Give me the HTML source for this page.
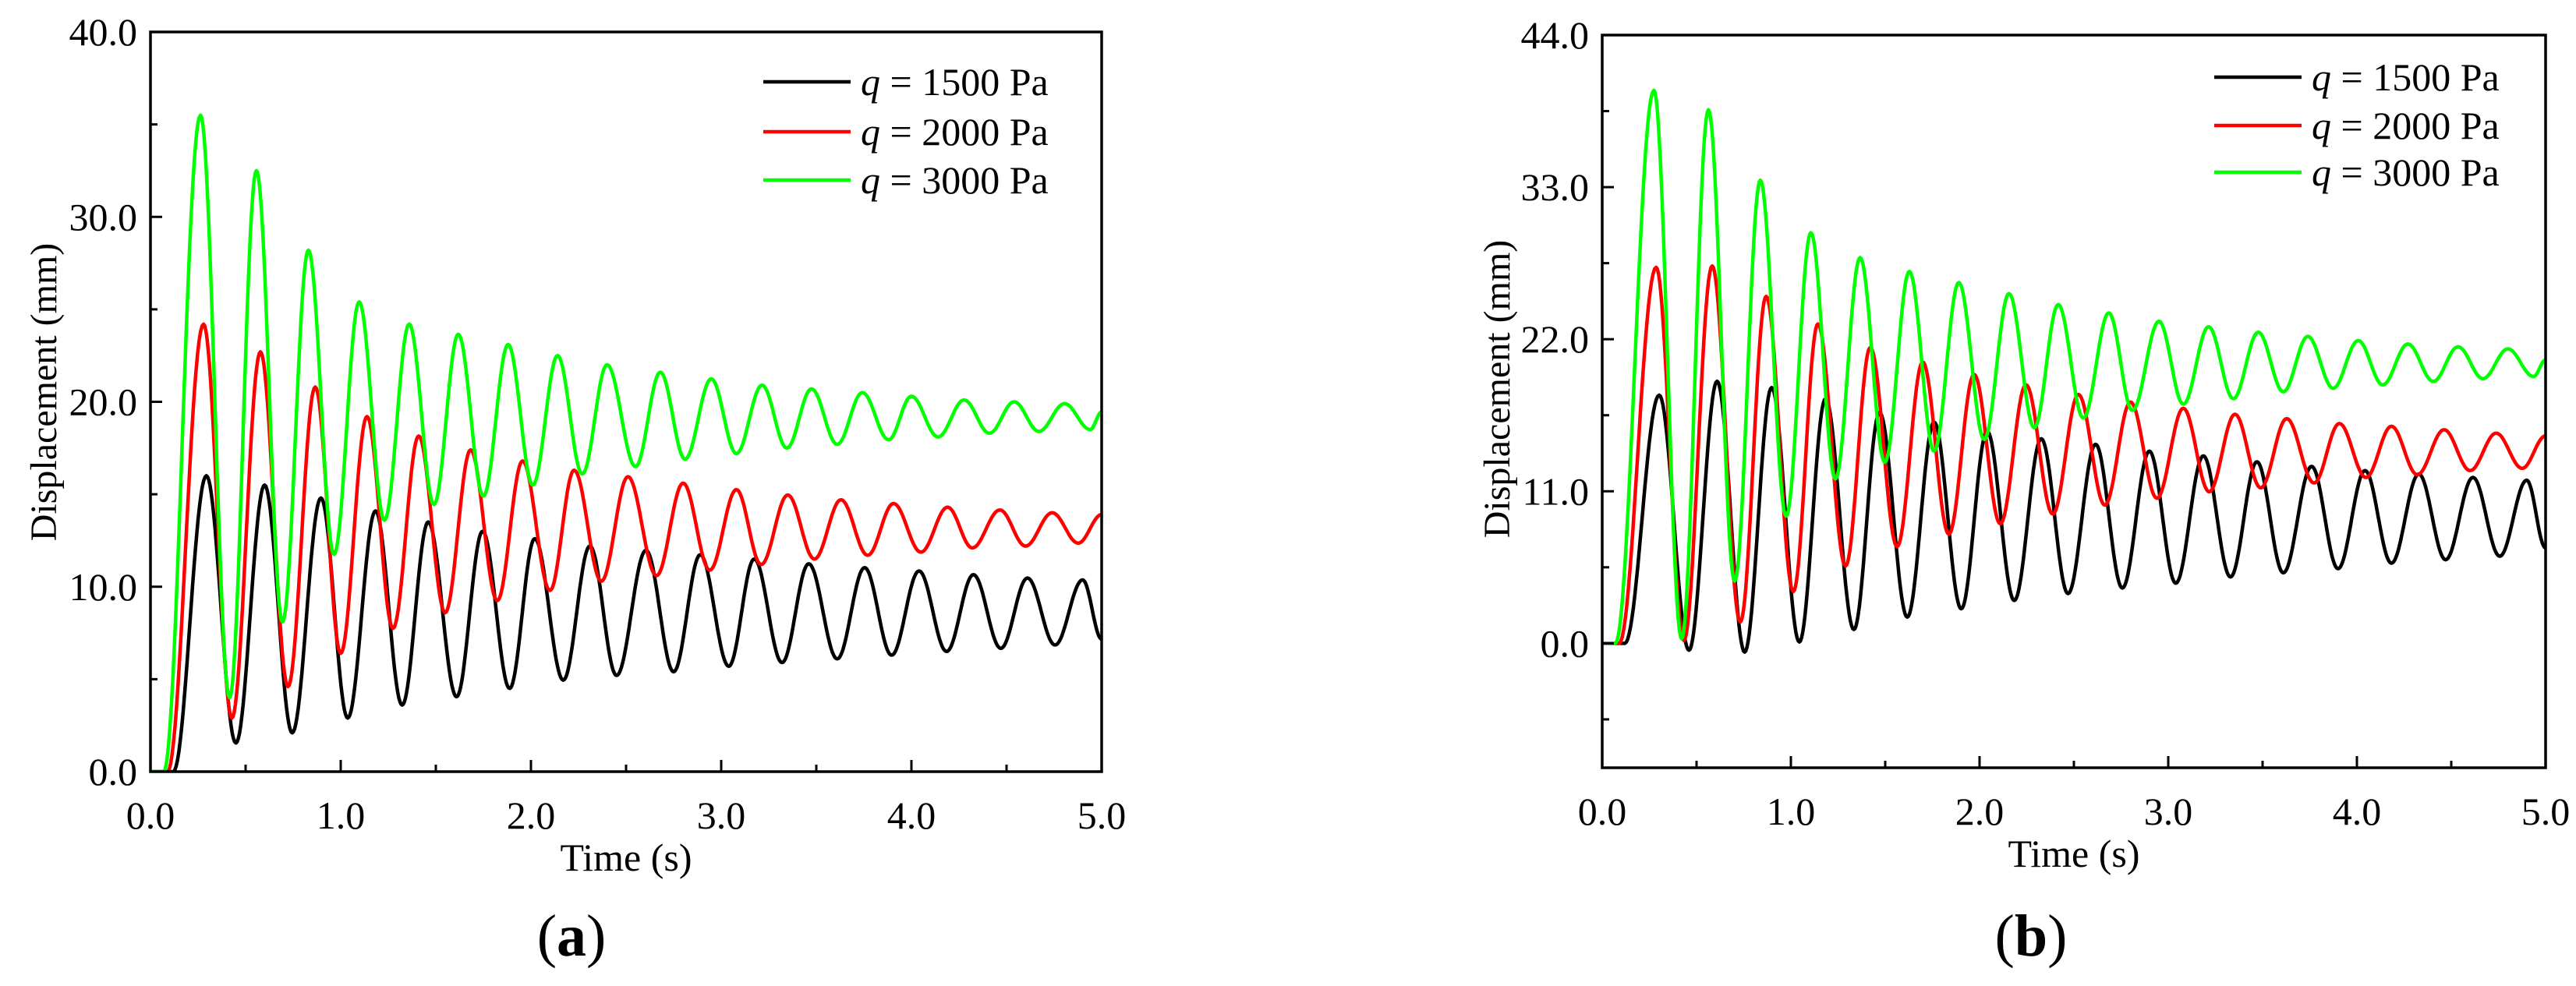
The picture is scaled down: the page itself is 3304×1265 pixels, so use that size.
<!DOCTYPE html>
<html><head><meta charset="utf-8"><style>
html,body{margin:0;padding:0;background:#fff;}
svg{display:block;}
text{font-family:"Liberation Serif",serif;fill:#000;}
</style></head><body>
<svg id="fig" width="3304" height="1265" viewBox="0 0 3304 1265" xmlns="http://www.w3.org/2000/svg"></svg>
<script>
// ---------- Panel (a) data: extremum times (s) and displacements (mm) ----------
const aBlackT = [0,0.12,0.294,0.449,0.60,0.745,0.896,1.037,1.183,1.323,1.46,1.609,1.746,1.888,2.02,2.17,2.31,2.45,2.605,2.75,2.89,3.04,3.174,3.32,3.46,3.61,3.754,3.896,4.04,4.185,4.326,4.47,4.61,4.755,4.90,5.0];
const aBlackV = [0,0,16.0,1.55,15.5,2.1,14.8,2.9,14.1,3.6,13.5,4.05,13.0,4.5,12.6,4.95,12.2,5.2,11.97,5.4,11.73,5.7,11.5,5.9,11.24,6.1,11.03,6.3,10.85,6.5,10.65,6.67,10.47,6.85,10.37,7.17];
const aRedT = [0,0.09,0.279,0.428,0.578,0.723,0.866,1.0,1.138,1.275,1.41,1.549,1.683,1.823,1.956,2.10,2.227,2.37,2.51,2.66,2.80,2.94,3.08,3.21,3.35,3.49,3.63,3.77,3.906,4.05,4.19,4.32,4.465,4.6,4.74,4.877,5.0];
const aRedV = [0,0,24.2,2.9,22.7,4.6,20.8,6.4,19.2,7.75,18.15,8.6,17.4,9.25,16.8,9.8,16.3,10.3,15.95,10.6,15.6,10.9,15.25,11.2,14.96,11.5,14.7,11.7,14.5,11.87,14.3,12.1,14.15,12.2,14.0,12.36,13.9];
const aGreenT = [0,0.07,0.263,0.416,0.557,0.694,0.83,0.965,1.097,1.23,1.36,1.49,1.618,1.75,1.88,2.01,2.14,2.27,2.40,2.55,2.68,2.81,2.948,3.08,3.215,3.345,3.475,3.61,3.742,3.88,4.0,4.14,4.277,4.41,4.54,4.67,4.805,4.94,5.0];
const aGreenV = [0,0,35.5,4.0,32.5,8.1,28.2,11.75,25.4,13.6,24.2,14.45,23.65,14.9,23.1,15.5,22.5,16.1,22.0,16.5,21.6,16.9,21.24,17.2,20.9,17.5,20.7,17.7,20.5,17.95,20.3,18.1,20.1,18.3,20.0,18.4,19.9,18.5,19.45];
// ---------- Panel (b) data ----------
const bBlackT = [0,0.12,0.302,0.46,0.609,0.755,0.898,1.045,1.184,1.334,1.47,1.617,1.759,1.903,2.04,2.184,2.327,2.469,2.615,2.757,2.90,3.04,3.186,3.33,3.47,3.61,3.76,3.90,4.043,4.183,4.328,4.47,4.615,4.757,4.90,5.0];
const bBlackV = [0,0,17.95,-0.5,18.96,-0.63,18.5,0.1,17.7,1.0,16.7,1.9,16.0,2.5,15.35,3.1,14.8,3.6,14.4,4.0,13.9,4.35,13.56,4.8,13.13,5.1,12.8,5.4,12.5,5.8,12.25,6.05,12.0,6.3,11.8,6.9];
const bRedT = [0,0.09,0.286,0.433,0.583,0.732,0.869,1.013,1.143,1.29,1.421,1.563,1.699,1.837,1.971,2.11,2.246,2.388,2.524,2.664,2.80,2.94,3.08,3.217,3.354,3.49,3.628,3.773,3.907,4.048,4.183,4.32,4.462,4.60,4.738,4.876,5.0];
const bRedV = [0,0,27.2,0.2,27.3,1.55,25.1,3.75,23.1,5.6,21.4,7.0,20.35,7.9,19.45,8.65,18.7,9.35,18.0,10.0,17.45,10.5,17.0,10.97,16.57,11.25,16.25,11.6,15.9,12.0,15.7,12.2,15.45,12.5,15.2,12.66,15.0];
const bGreenT = [0,0.07,0.274,0.421,0.563,0.702,0.838,0.975,1.106,1.236,1.367,1.498,1.628,1.759,1.89,2.025,2.156,2.29,2.417,2.55,2.685,2.81,2.951,3.08,3.214,3.345,3.477,3.61,3.74,3.874,4.007,4.137,4.27,4.405,4.536,4.668,4.80,4.936,5.0];
const bGreenV = [0,0,40.0,0.33,38.6,4.5,33.5,9.2,29.7,11.9,27.9,13.1,26.9,13.9,26.1,14.75,25.3,15.6,24.5,16.3,23.9,16.85,23.3,17.3,22.9,17.7,22.5,18.2,22.2,18.45,21.9,18.7,21.65,18.95,21.45,19.15,21.3,19.3,20.5];
// ---------- ticks / labels ----------
const xTicksMajor = [0,1,2,3,4,5];
const xTickLabels = ["0.0","1.0","2.0","3.0","4.0","5.0"];
const xTicksMinor = [0.5,1.5,2.5,3.5,4.5];
const aYTicksMajor = [0,10,20,30,40];
const aYTickLabels = ["0.0","10.0","20.0","30.0","40.0"];
const aYTicksMinor = [5,15,25,35];
const bYTicksMajor = [0,11,22,33,44];
const bYTickLabels = ["0.0","11.0","22.0","33.0","44.0"];
const bYTicksMinor = [-5.5,5.5,16.5,27.5,38.5];
const legendLabels = ["1500","2000","3000"];
const seriesColors = ["#000000","#ff0000","#00ff00"];

const NS = "http://www.w3.org/2000/svg";
const svg = document.getElementById('fig');
function mk(tag, attrs, parent){
  const e = document.createElementNS(NS, tag);
  for (const k in attrs) e.setAttribute(k, attrs[k]);
  (parent||svg).appendChild(e);
  return e;
}

function panel(cfg){
  const g = mk('g', {});
  
  
  const X = t => cfg.x0 + (t - 0) / 5 * (cfg.x1 - cfg.x0);
  const Y = v => cfg.y1 - (v - cfg.ymin) / (cfg.ymax - cfg.ymin) * (cfg.y1 - cfg.y0);

  // series
  const clipId = cfg.name + '-clip';
  const cp = mk('clipPath', {id: clipId}, g);
  mk('rect', {x: cfg.x0, y: cfg.y0, width: cfg.x1 - cfg.x0, height: cfg.y1 - cfg.y0}, cp);
  cfg.series.forEach((s, si) => {
    let d = '';
    for (let i = 0; i < s.t.length; i++) {
      if (i === 0) { d += 'M' + X(s.t[0]).toFixed(1) + ' ' + Y(s.v[0]).toFixed(1); continue; }
      const ta = s.t[i-1], tb = s.t[i], va = s.v[i-1], vb = s.v[i];
      const n = 24;
      for (let k = 1; k <= n; k++) {
        const u = k / n;
        const tt = ta + (tb - ta) * u;
        const vv = va + (vb - va) * (1 - Math.cos(Math.PI * u)) / 2;
        d += 'L' + X(tt).toFixed(1) + ' ' + Y(vv).toFixed(1);
      }
    }
    const p = mk('path', {d: d, fill: 'none', stroke: seriesColors[si], 'stroke-width': 4.5, 'stroke-linejoin': 'round', 'clip-path': 'url(#' + clipId + ')'}, g);
    
    
  });

  // frame
  const fr = mk('rect', {x: cfg.x0, y: cfg.y0, width: cfg.x1 - cfg.x0, height: cfg.y1 - cfg.y0, fill: 'none', stroke: '#000', 'stroke-width': 3.5}, g);
  
  

  // x ticks
  xTicksMajor.forEach((t, i) => {
    mk('line', {x1: X(t), x2: X(t), y1: cfg.y1, y2: cfg.y1 - 15, stroke: '#000', 'stroke-width': 3}, g);
    const tx = mk('text', {x: X(t), y: cfg.y1 + 73, 'font-size': 50, 'text-anchor': 'middle'}, g);
    tx.textContent = xTickLabels[i];
    
    
  });
  xTicksMinor.forEach(t => {
    mk('line', {x1: X(t), x2: X(t), y1: cfg.y1, y2: cfg.y1 - 9, stroke: '#000', 'stroke-width': 3}, g);
  });
  // y ticks
  cfg.yMajor.forEach((v, i) => {
    mk('line', {x1: cfg.x0, x2: cfg.x0 + 15, y1: Y(v), y2: Y(v), stroke: '#000', 'stroke-width': 3}, g);
    const tx = mk('text', {x: cfg.x0 - 17, y: Y(v) + 17, 'font-size': 50, 'text-anchor': 'end'}, g);
    tx.textContent = cfg.yLabels[i];
    
    
  });
  cfg.yMinor.forEach(v => {
    mk('line', {x1: cfg.x0, x2: cfg.x0 + 9, y1: Y(v), y2: Y(v), stroke: '#000', 'stroke-width': 3}, g);
  });

  // axis titles
  const xt = mk('text', {x: (cfg.x0 + cfg.x1) / 2, y: cfg.y1 + 127, 'font-size': 50, 'text-anchor': 'middle'}, g);
  xt.textContent = 'Time (s)';
  
  
  const yt = mk('text', {x: 0, y: 0, 'font-size': 48, 'text-anchor': 'middle', transform: 'translate(' + cfg.yTitleX + ',' + cfg.yTitleY + ') rotate(-90)'}, g);
  yt.textContent = 'Displacement (mm)';
  
  

  // legend
  cfg.legendY.forEach((ly, i) => {
    const lg = mk('g', {}, g);
    
    
    mk('line', {x1: cfg.legendX, x2: cfg.legendX + 112, y1: ly, y2: ly, stroke: seriesColors[i], 'stroke-width': 4.5}, lg);
    const tx = mk('text', {x: cfg.legendX + 125, y: ly + 17, 'font-size': 50}, lg);
    const q = mk('tspan', {'font-style': 'italic'}, tx);
    q.textContent = 'q';
    const rest = mk('tspan', {}, tx);
    rest.textContent = ' = ' + legendLabels[i] + ' Pa';
  });

  // panel letter
  const pl = mk('text', {x: cfg.letterX, y: 1226, 'font-size': 76, 'text-anchor': 'middle'}, g);
  const p1 = mk('tspan', {}, pl); p1.textContent = '(';
  const p2 = mk('tspan', {'font-weight': 'bold'}, pl); p2.textContent = cfg.letter;
  const p3 = mk('tspan', {}, pl); p3.textContent = ')';
  
  
}

panel({name: 'chart-a', x0: 193, x1: 1413, y0: 41, y1: 990, ymin: 0, ymax: 40,
  yMajor: aYTicksMajor, yLabels: aYTickLabels, yMinor: aYTicksMinor,
  series: [{t: aBlackT, v: aBlackV}, {t: aRedT, v: aRedV}, {t: aGreenT, v: aGreenV}],
  yTitleX: 72, yTitleY: 503, legendX: 979, legendY: [105, 169, 231], letter: 'a', letterX: 733});
panel({name: 'chart-b', x0: 2055, x1: 3265, y0: 45, y1: 985, ymin: -9, ymax: 44,
  yMajor: bYTicksMajor, yLabels: bYTickLabels, yMinor: bYTicksMinor,
  series: [{t: bBlackT, v: bBlackV}, {t: bRedT, v: bRedV}, {t: bGreenT, v: bGreenV}],
  yTitleX: 1936, yTitleY: 499, legendX: 2840, legendY: [99, 161, 221], letter: 'b', letterX: 2605});
</script>
</body></html>
